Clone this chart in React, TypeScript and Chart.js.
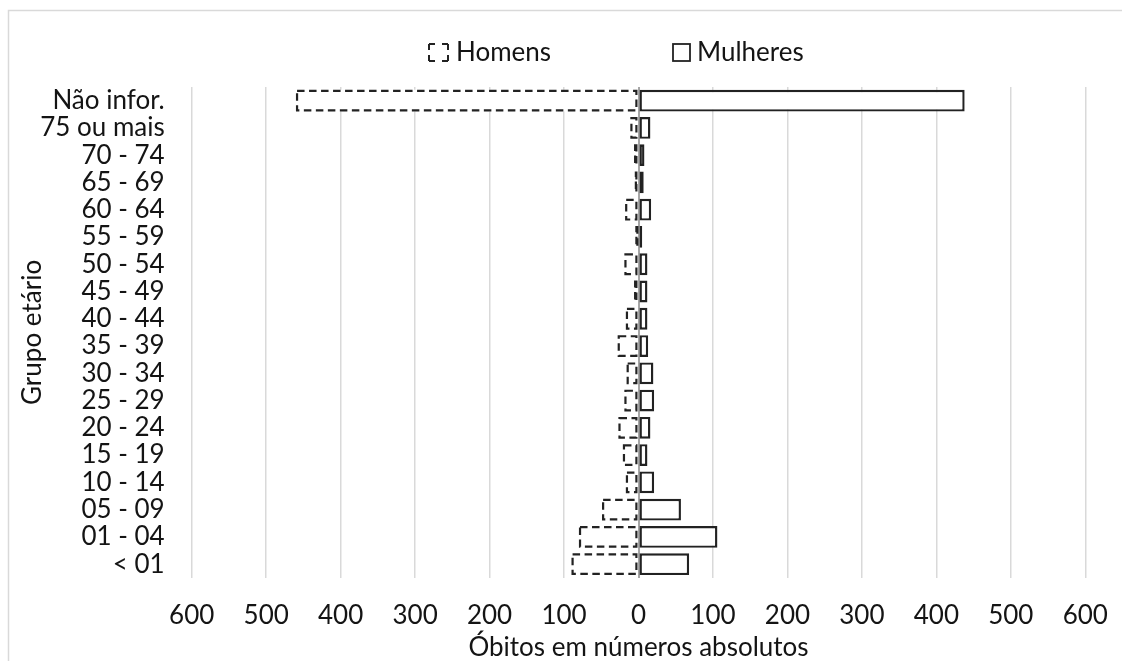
import React, { useEffect, useRef } from 'react';
import { Chart, registerables } from 'chart.js';

Chart.register(...registerables);

const categories = [
  'Não infor.', '75 ou mais', '70 - 74', '65 - 69', '60 - 64', '55 - 59',
  '50 - 54', '45 - 49', '40 - 44', '35 - 39', '30 - 34', '25 - 29',
  '20 - 24', '15 - 19', '10 - 14', '05 - 09', '01 - 04', '< 01',
];
const homens = [460, 11, 6, 5, 18, 3, 19, 6, 17, 28, 16, 19, 27, 21, 17, 49, 80, 90];
const mulheres = [438, 16, 8, 7, 17, 5, 12, 12, 12, 13, 20, 21, 16, 12, 21, 57, 106, 68];
const seriesNames = ['Homens', 'Mulheres'];
const xAxisTitle = 'Óbitos em números absolutos';
const yAxisTitle = 'Grupo etário';

const FONT = 'Lato';
const TEXT = '#141414';
const STROKE = '#222222';

export default function App() {
  const ref = useRef<HTMLCanvasElement>(null);

  useEffect(() => {
    const canvas = ref.current;
    if (!canvas) return;

    const frame = {
      id: 'frame',
      beforeDraw(chart: any) {
        const c = chart.ctx;
        c.save();
        c.strokeStyle = '#d9d9d9';
        c.lineWidth = 1.5;
        c.beginPath();
        c.moveTo(8.5, chart.height);
        c.lineTo(8.5, 10.5);
        c.lineTo(chart.width, 10.5);
        c.stroke();
        c.restore();
      },
    };

    const dashedBars = {
      id: 'dashedBars',
      afterDatasetsDraw(chart: any) {
        const meta = chart.getDatasetMeta(0);
        const c = chart.ctx;
        c.save();
        c.strokeStyle = STROKE;
        c.lineWidth = 2.2;
        c.setLineDash([7.5, 4.5]);
        meta.data.forEach((el: any) => {
          const p = el.getProps(['x', 'y', 'base', 'height'], true);
          const left = Math.min(p.x, p.base);
          const right = Math.max(p.x, p.base);
          const top = p.y - p.height / 2;
          c.strokeRect(left + 1.1, top + 1.1, right - left - 2.2, p.height - 2.2);
        });
        c.restore();
      },
    };

    const customLegend = {
      id: 'customLegend',
      afterDraw(chart: any) {
        const c = chart.ctx;
        c.save();
        const cy = 52.5;
        const hx = 429, hy = 44, hw = 19, hh = 17;
        c.strokeStyle = STROKE;
        c.lineWidth = 2;
        const side = (x0: number, y0: number, x1: number, y1: number, len: number) => {
          c.setLineDash([6, len - 12, 6]);
          c.beginPath();
          c.moveTo(x0, y0);
          c.lineTo(x1, y1);
          c.stroke();
        };
        side(hx, hy, hx + hw, hy, hw);
        side(hx + hw, hy, hx + hw, hy + hh, hh);
        side(hx + hw, hy + hh, hx, hy + hh, hw);
        side(hx, hy + hh, hx, hy, hh);
        c.setLineDash([]);
        c.lineWidth = 1.8;
        c.strokeRect(673, 44, 17, 17);
        c.fillStyle = TEXT;
        c.font = `26px ${FONT}`;
        c.textBaseline = 'middle';
        c.textAlign = 'left';
        c.fillText(seriesNames[0], 456, cy);
        c.fillText(seriesNames[1], 697, cy);
        c.restore();
      },
    };

    const chart = new Chart(canvas, {
      type: 'bar',
      data: {
        labels: categories,
        datasets: [
          {
            label: seriesNames[0],
            data: homens.map((v) => -v),
            backgroundColor: '#ffffff',
            borderWidth: 0,
            categoryPercentage: 1,
            barPercentage: 0.8,
          },
          {
            label: seriesNames[1],
            data: mulheres,
            backgroundColor: '#ffffff',
            borderColor: STROKE,
            borderWidth: 2.4,
            borderSkipped: false,
            categoryPercentage: 1,
            barPercentage: 0.8,
          },
        ],
      },
      options: {
        indexAxis: 'y',
        animation: false,
        responsive: true,
        maintainAspectRatio: false,
        layout: { padding: { top: 87, left: 17, right: 36.7, bottom: 0 } },
        plugins: {
          legend: { display: false },
          tooltip: { enabled: false },
        },
        scales: {
          x: {
            stacked: true,
            min: -600,
            max: 600,
            ticks: {
              stepSize: 100,
              color: TEXT,
              font: { family: FONT, size: 26, lineHeight: 1 },
              padding: 25,
              maxRotation: 0,
              callback: (v: any) => String(Math.abs(Number(v))),
            },
            grid: {
              drawTicks: false,
              color: (ctx: any) => (ctx.tick && ctx.tick.value === 0 ? '#a6a6a6' : '#d9d9d9'),
              lineWidth: (ctx: any) => (ctx.tick && ctx.tick.value === 0 ? 2 : 1.5),
            },
            border: { display: false },
            title: {
              display: true,
              text: xAxisTitle,
              color: TEXT,
              font: { family: FONT, size: 26, lineHeight: 1 },
              padding: 0,
            },
            afterFit: (scale: any) => {
              scale.height = 83.2;
              scale.paddingLeft = 0;
              scale.paddingRight = 0;
            },
          },
          y: {
            stacked: true,
            ticks: {
              autoSkip: false,
              color: TEXT,
              font: { family: FONT, size: 26, lineHeight: 1 },
              padding: 27,
            },
            grid: { display: false, drawTicks: false },
            border: { display: false },
            title: {
              display: true,
              text: yAxisTitle,
              color: TEXT,
              font: { family: FONT, size: 26, lineHeight: 1.2 },
              padding: 0,
            },
            afterFit: (scale: any) => {
              scale.width = 174.7;
              scale.paddingTop = 0;
              scale.paddingBottom = 0;
            },
          },
        },
      },
      plugins: [frame, dashedBars, customLegend],
    });

    return () => chart.destroy();
  }, []);

  return (
    <div style={{ position: 'fixed', left: 0, top: 0, width: 1122, height: 661, background: '#ffffff' }}>
      <canvas ref={ref} />
    </div>
  );
}
